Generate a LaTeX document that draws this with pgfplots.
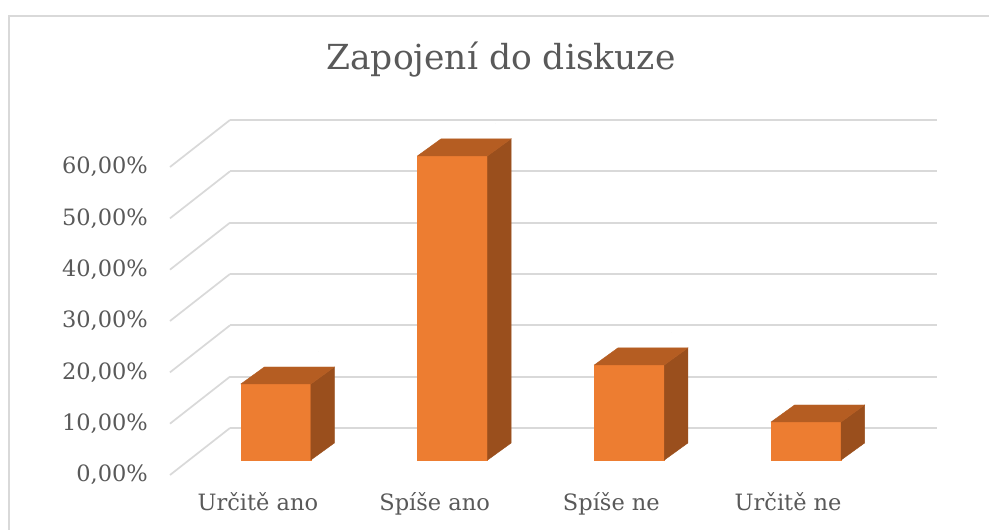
\documentclass[border=0pt]{standalone}
\usepackage{pgfplots}
\pgfplotsset{compat=1.18}
\usepackage{fontspec}
\setmainfont{DejaVu Serif}
\definecolor{txt}{HTML}{595959}
\definecolor{gridc}{HTML}{D9D9D9}
\definecolor{barfront}{HTML}{ED7D31}
\definecolor{bartop}{HTML}{B55D22}
\definecolor{barside}{HTML}{9A4F1D}
\begin{document}
\begin{tikzpicture}
\useasboundingbox (0,0) rectangle (989pt,530pt);
\fill[white] (0,0) rectangle (989pt,530pt);
\draw[gridc, line width=1.4pt] (9pt,-5pt) -- (9pt,514pt) -- (995pt,514pt);
\begin{axis}[
  at={(230pt,102pt)}, anchor=south west,
  scale only axis, width=707pt, height=308pt,
  xmin=-0.5, xmax=3.5, ymin=0, ymax=60,
  clip=false,
  axis line style={draw=none},
  major tick length=0pt,
  ytick={0,10,...,60},
  yticklabels={{0,00\%},{10,00\%},{20,00\%},{30,00\%},{40,00\%},{50,00\%},{60,00\%}},
  ymajorgrids, grid style={gridc, line width=1.7pt},
  xtick={0,1,2,3},
  xticklabels={Určitě ano, Spíše ano, Spíše ne, Určitě ne},
  ticklabel style={font=\fontsize{22.5}{26}\selectfont, text=txt, inner sep=0pt},
  yticklabel style={anchor=east, xshift=-82pt, yshift=-47pt},
  xticklabel style={anchor=base, xshift=-60.5pt, yshift=-82.7pt},
]
\addplot[gridc, line width=1.7pt, forget plot] coordinates {(-0.5,0) (-0.8395,-9.156)};
\addplot[gridc, line width=1.7pt, forget plot] coordinates {(-0.5,10) (-0.8395,0.844)};
\addplot[gridc, line width=1.7pt, forget plot] coordinates {(-0.5,20) (-0.8395,10.844)};
\addplot[gridc, line width=1.7pt, forget plot] coordinates {(-0.5,30) (-0.8395,20.844)};
\addplot[gridc, line width=1.7pt, forget plot] coordinates {(-0.5,40) (-0.8395,30.844)};
\addplot[gridc, line width=1.7pt, forget plot] coordinates {(-0.5,50) (-0.8395,40.844)};
\addplot[gridc, line width=1.7pt, forget plot] coordinates {(-0.5,60) (-0.8395,50.844)};
\addplot[scatter, only marks, mark=*, mark size=0pt, mark options={draw=none,fill=none},
  visualization depends on={rawy \as \val},
  scatter/@pre marker code/.code={%
    \pgfmathsetlengthmacro\h{\val*5.13333pt}%
    \fill[barfront] (-77.5pt,{-32pt-\h}) rectangle (-7.5pt,-32pt);
    \fill[barside] (-7.5pt,-32pt) -- (16pt,-15pt) -- (16pt,{-15pt-\h}) -- (-7.5pt,{-32pt-\h}) -- cycle;
    \fill[bartop] (-77.5pt,-32pt) -- (-7.5pt,-32pt) -- (16pt,-15pt) -- (-54pt,-15pt) -- cycle;
  },
  scatter/@post marker code/.code={},
] table[x=x,y=y] {
x y
0 14.81
1 59.26
2 18.52
3 7.41
};
\end{axis}
\node[anchor=base, text=txt, font=\fontsize{34.5}{40}\selectfont] at (501pt,460.7pt) {Zapojení do diskuze};
\end{tikzpicture}
\end{document}
